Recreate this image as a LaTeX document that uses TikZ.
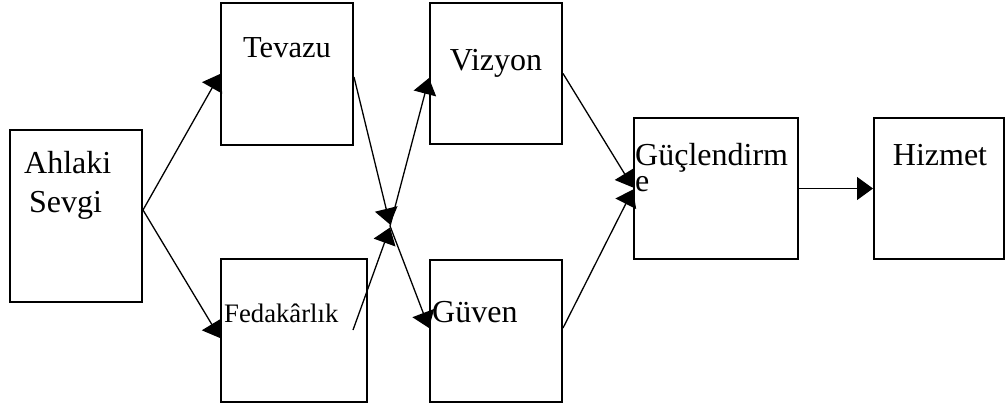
\documentclass[tikz,border=0pt]{standalone}
\usepackage{fontspec}
\setmainfont{Liberation Serif}
\usetikzlibrary{arrows.meta}
\begin{document}
\begin{tikzpicture}[x=1pt,y=-1pt,
  box/.style={draw=black,line width=2pt,rectangle,inner sep=0pt},
  lbl/.style={inner sep=0pt,font=\fontsize{32}{38}\selectfont},
  arr/.style={line width=1.3pt,-{Triangle[length=16pt,width=23pt]}}]
\useasboundingbox (0,0) rectangle (1006,409);
% boxes
\node[box,minimum width=132pt,minimum height=172pt] (ahl) at (76,216) {};
\node[box,minimum width=132pt,minimum height=142pt] (tev) at (287,74) {};
\node[box,minimum width=146pt,minimum height=143pt] (fed) at (294,330.5) {};
\node[box,minimum width=132pt,minimum height=141pt] (viz) at (496,73.5) {};
\node[box,minimum width=132pt,minimum height=142pt] (guv) at (496,331) {};
\node[box,minimum width=164pt,minimum height=141pt] (guc) at (716,188.5) {};
\node[box,minimum width=130pt,minimum height=141pt] (hiz) at (939,188.5) {};
% labels
\node[lbl,anchor=base west] (t1) at (24,173) {Ahlaki};
\node[lbl,anchor=base west] (t2) at (29,212) {Sevgi};
\node[lbl,anchor=base,font=\fontsize{30.5}{36}\selectfont] (t3) at (287,58) {Tevazu};
\node[lbl,anchor=base] (t4) at (496,71) {Vizyon};
\node[lbl,anchor=base west,font=\fontsize{26.7}{32}\selectfont] (t5) at (224,322) {Fedakârlık};
\node[lbl,anchor=base west] (t6) at (432,322) {Güven};
\node[lbl,anchor=base west] (t7) at (635,165) {Güçlendirm};
\node[lbl,anchor=base west] (t8) at (635,191) {e};
\node[lbl,anchor=base] (t9) at (940,165) {Hizmet};
% connector points
\coordinate (cx) at (390,226);
\coordinate (fedout) at (353,330);
% connectors
\draw[arr] ([yshift=6pt]ahl.east) -- (tev.west);
\draw[arr] ([yshift=6pt]ahl.east) -- ([yshift=-7.5pt]fed.west);
\draw[arr] ([yshift=-3pt]tev.east) -- ([yshift=1.5pt]cx);
\draw[arr] (fedout) -- ([yshift=-1.5pt]cx);
\draw[arr] (cx) -- ([yshift=-4.5pt]viz.west);
\draw[arr] (cx) -- ([yshift=3pt]guv.west);
\draw[arr] (viz.east) -- ([yshift=1pt]guc.west);
\draw[arr] ([yshift=3pt]guv.east) -- ([yshift=-1pt]guc.west);
\draw[arr] (guc.east) -- (hiz.west);
\end{tikzpicture}
\end{document}
